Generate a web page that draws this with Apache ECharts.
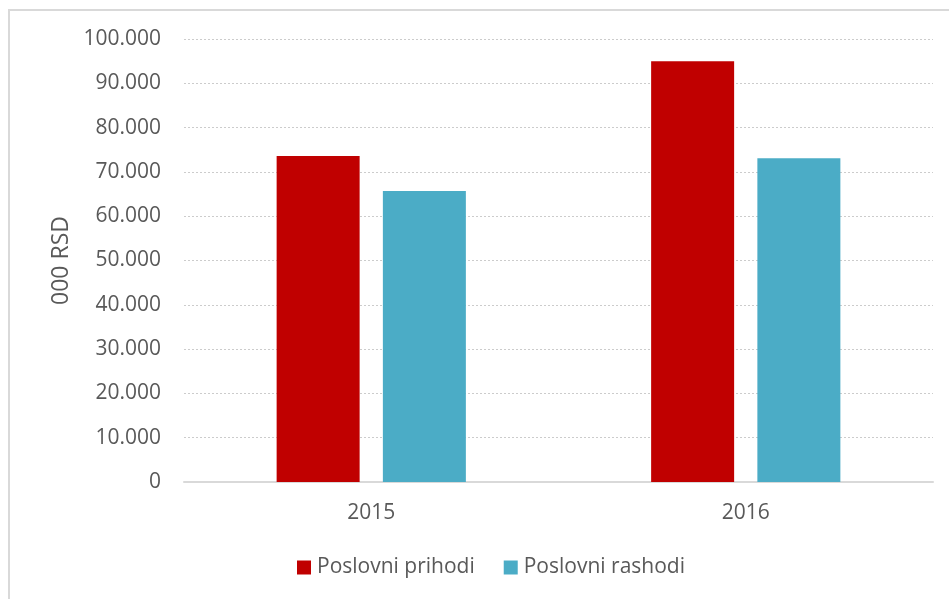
<!DOCTYPE html>
<html>
<head>
<meta charset="utf-8">
<script src="https://cdn.jsdelivr.net/npm/echarts@6/dist/echarts.min.js"></script>
<style>
  html, body { margin: 0; padding: 0; background: #fff; }
  #chart { width: 949px; height: 599px; }
</style>
</head>
<body>
<div id="chart"></div>
<script>
// data (000 RSD)
const years = ['2015', '2016']
const prihodi = [73600, 95000]
const rashodi = [65700, 73100]

const textColor = '#595959'
const fontFamily = '"Open Sans", "Noto Sans", sans-serif'

// 100000 -> "100.000"
const fmt = (val) => String(val).replace(/\B(?=(\d{3})+(?!\d))/g, '.')

const chart = echarts.init(document.getElementById('chart'))

chart.setOption({
  backgroundColor: '#fff',
  animation: false,
  textStyle: { fontFamily: fontFamily },
  // chart frame, only left/top edges show in the picture
  graphic: [{
    type: 'rect',
    shape: { x: 9, y: 10, width: 980, height: 640 },
    style: { fill: 'none', stroke: '#d9d9d9', lineWidth: 2 },
    silent: true
  }],
  grid: { left: 184, right: 16, top: 39, bottom: 117 },
  legend: {
    bottom: 16,
    left: 292,
    itemWidth: 14,
    itemHeight: 14,
    itemGap: 29,
    icon: 'rect',
    textStyle: { color: textColor, fontSize: 21, fontFamily: fontFamily, padding: [0, 0, 0, 1] },
    data: ['Poslovni prihodi', 'Poslovni rashodi']
  },
  xAxis: {
    type: 'category',
    data: years,
    axisLine: { lineStyle: { color: '#d9d9d9', width: 2 } },
    axisTick: { show: false },
    axisLabel: { color: textColor, fontSize: 21, margin: 21 }
  },
  yAxis: {
    type: 'value',
    min: 0,
    max: 100000,
    interval: 10000,
    name: '000 RSD',
    nameLocation: 'middle',
    nameGap: 111,
    nameTextStyle: { color: textColor, fontSize: 23 },
    axisLine: { show: false },
    axisTick: { show: false },
    axisLabel: { color: textColor, fontSize: 21, margin: 23, formatter: fmt },
    splitLine: { lineStyle: { color: '#cccccc', type: [2, 2], width: 1 } }
  },
  series: [
    {
      name: 'Poslovni prihodi',
      type: 'bar',
      data: prihodi,
      barWidth: 83,
      barGap: '28%',
      itemStyle: { color: '#C00000' }
    },
    {
      name: 'Poslovni rashodi',
      type: 'bar',
      data: rashodi,
      barWidth: 83,
      itemStyle: { color: '#4BACC6' }
    }
  ]
})
</script>
</body>
</html>
